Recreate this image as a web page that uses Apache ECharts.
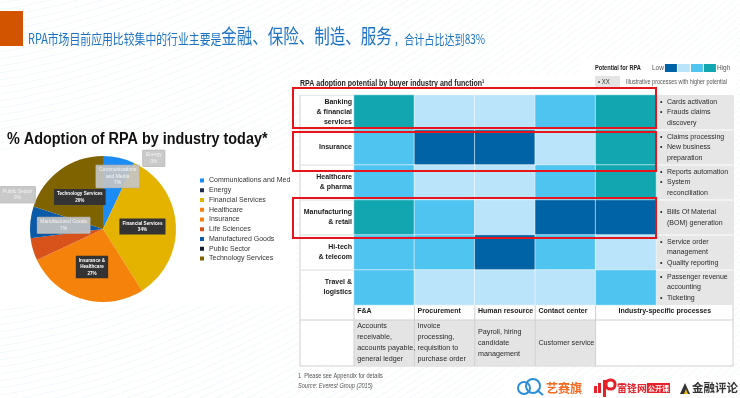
<!DOCTYPE html>
<html>
<head>
<meta charset="utf-8">
<script src="https://cdn.jsdelivr.net/npm/echarts@6/dist/echarts.min.js"></script>
<style>
html, body { margin: 0; padding: 0; background: #fff; }
#main { width: 740px; height: 398px; }
</style>
</head>
<body>
<div id="main"></div>
<script>
// pie: % adoption of RPA by industry
var industries = ['Communications and Media', 'Energy', 'Financial Services', 'Healthcare', 'Insurance',
                  'Life Sciences', 'Manufactured Goods', 'Public Sector', 'Technology Services'];
var shares = [7, 0, 34, 0, 27, 5, 7, 0, 20];
var sliceLabels = ['Communications\nand Media', 'Energy', 'Financial Services', '', 'Insurance &\nHealthcare',
                   'Life Sciences', 'Manufactured Goods', 'Public Sector', 'Technology Services'];

// heatmap: RPA adoption potential (1 = low ... 4 = high)
var buyerRows = ['Banking\n& financial\nservices', 'Insurance', 'Healthcare\n& pharma',
                 'Manufacturing\n& retail', 'Hi-tech\n& telecom', 'Travel &\nlogistics'];
var functionCols = ['F&A', 'Procurement', 'Human resource', 'Contact center', 'Industry-specific processes'];
var functionExamples = ['Accounts\nreceivable,\naccounts payable,\ngeneral ledger',
                        'Invoice\nprocessing,\nrequisition to\npurchase order',
                        'Payroll, hiring\ncandidate\nmanagement',
                        'Customer service', ''];
var rowProcesses = [
    ['Cards activation', 'Frauds claims\ndiscovery'],
    ['Claims processing', 'New business\npreparation'],
    ['Reports automation', 'System\nreconciliation'],
    ['Bills Of Material\n(BOM) generation'],
    ['Service order\nmanagement', 'Quality reporting'],
    ['Passenger revenue\naccounting', 'Ticketing']
];
var potential = [
    [4, 2, 2, 3, 4],
    [3, 1, 1, 2, 4],
    [3, 2, 2, 3, 4],
    [4, 3, 2, 1, 1],
    [3, 3, 1, 3, 2],
    [3, 2, 2, 2, 3]
];
var potentialLevels = [1, 2, 3, 4];

var pieColors = ['#1b8cf5', '#1f2d4d', '#e4b300', '#f57f12', '#f5820a', '#d8521c', '#0a5aa8', '#151b2e', '#7f6300'];
var levelColors = ['#0063a5', '#b9e4f9', '#50c4f0', '#12a6b1'];
var darkLabels = ['Financial Services', 'Insurance', 'Technology Services'];
var labelOffsets = {'Communications and Media': [6, -14], 'Energy': [34, -35], 'Public Sector': [-48, -22]};

var SANS = "'Liberation Sans',Arial,sans-serif";

var myChart = echarts.init(document.getElementById('main'));

var G = {left: 354, top: 95, width: 302, height: 210};
var rowH = G.height / buyerRows.length;
var colW = G.width / functionCols.length;
var tableLeft = 300, tableRight = 733, tableBottom = 366;
var headerBottom = G.top + G.height + 15;

var pieData = industries.map(function (name, i) {
    var dark = darkLabels.indexOf(name) >= 0;
    var label = dark
        ? {backgroundColor: '#333', color: '#fff', fontWeight: 'bold', fontSize: 4.6, padding: [1.5, 3]}
        : {backgroundColor: 'rgba(196,196,196,0.92)', color: '#f4f4f4', borderColor: '#aaa', borderWidth: 0.5,
           fontSize: 5, padding: [1.5, 3]};
    if (labelOffsets[name]) label.offset = labelOffsets[name];
    if (!sliceLabels[i]) label.show = false;
    return {name: name, value: shares[i], itemStyle: {color: pieColors[i]}, label: label};
});

var heatData = [];
potential.forEach(function (row, r) {
    row.forEach(function (v, c) { heatData.push([c, r, v]); });
});

// faint diagonal background lines
var stripes = document.createElement('canvas');
stripes.width = 740; stripes.height = 398;
var sctx = stripes.getContext('2d');
sctx.fillStyle = '#fff';
sctx.fillRect(0, 0, 740, 398);
sctx.strokeStyle = 'rgba(195,222,242,0.22)';
sctx.lineWidth = 1;
for (var k = -60; k < 120; k++) {
    sctx.beginPath();
    sctx.moveTo(-20, 300 + k * 7);
    sctx.quadraticCurveTo(300, 260 + k * 7, 760, 60 + k * 7 - 200);
    sctx.stroke();
}

var graphics = [];
// table chrome
graphics.push({type: 'rect', z: -2, shape: {x: tableLeft, y: G.top, width: tableRight - tableLeft, height: tableBottom - G.top},
    style: {fill: '#fff', stroke: '#d0d0d0', lineWidth: 1}});
graphics.push({type: 'rect', z: -2, shape: {x: 296, y: 74, width: 440, height: 21}, style: {fill: '#fff'}});
graphics.push({type: 'rect', z: -2, shape: {x: 580, y: 58, width: 156, height: 16}, style: {fill: '#fff'}});
graphics.push({type: 'rect', z: -2, shape: {x: 0, y: 150, width: 296, height: 155}, style: {fill: '#fff'}});
graphics.push({type: 'rect', z: -1, shape: {x: G.left + G.width, y: G.top, width: tableRight - G.left - G.width, height: G.height},
    style: {fill: '#e6e6e6'}});
graphics.push({type: 'rect', z: -1, shape: {x: G.left, y: headerBottom, width: colW * 4, height: tableBottom - headerBottom},
    style: {fill: '#e4e4e4'}});
for (var r = 1; r < buyerRows.length; r++) {
    var yy = G.top + rowH * r;
    graphics.push({type: 'line', z: -1, shape: {x1: tableLeft, y1: yy, x2: G.left, y2: yy}, style: {stroke: '#dcdcdc', lineWidth: 1}});
    graphics.push({type: 'line', z: -1, shape: {x1: G.left + G.width, y1: yy, x2: tableRight, y2: yy}, style: {stroke: '#fff', lineWidth: 1}});
}
graphics.push({type: 'line', z: -1, shape: {x1: tableLeft, y1: headerBottom, x2: tableRight, y2: headerBottom}, style: {stroke: '#d0d0d0', lineWidth: 1}});
for (var c = 0; c <= 4; c++) {
    var xx = G.left + colW * c;
    graphics.push({type: 'line', z: -1, shape: {x1: xx, y1: G.top + G.height, x2: xx, y2: tableBottom}, style: {stroke: '#d0d0d0', lineWidth: 1}});
}
// red highlight boxes
[[88, 40], [132, 39], [198, 40]].forEach(function (b) {
    graphics.push({type: 'rect', z: 100, shape: {x: 293, y: b[0], width: 363, height: b[1]},
        style: {fill: 'none', stroke: '#e8141b', lineWidth: 2}});
});
// slide header
graphics.push({type: 'rect', shape: {x: 0, y: 11, width: 23, height: 35}, style: {fill: '#d35400'}});
graphics.push({type: 'text', x: 28, y: 46, scaleX: 0.775, style: {
    text: '{s|RPA市场目前应用比较集中的行业主要是}{b|金融、保险、制造、服务}{t| ，合计占比达到83%}',
    verticalAlign: 'bottom',
    rich: {
        s: {fontSize: 14, lineHeight: 14, fill: '#1b72c6', fontFamily: 'Noto Sans CJK SC', verticalAlign: 'bottom'},
        b: {fontSize: 20, lineHeight: 20, fill: '#1b72c6', fontFamily: 'Noto Sans CJK SC', verticalAlign: 'bottom'},
        t: {fontSize: 13, lineHeight: 13, fill: '#1b72c6', fontFamily: 'Noto Sans CJK SC', verticalAlign: 'bottom'}
    }
}});
graphics.push({type: 'text', x: 7, y: 140, scaleX: 0.9, style: {
    text: '% Adoption of RPA by industry today*', fontSize: 16, fontWeight: 'bold', fontFamily: SANS,
    fill: '#111', verticalAlign: 'middle'}});
// heatmap titles
graphics.push({type: 'text', x: 300, y: 84, scaleX: 0.78, style: {
    text: 'RPA adoption potential by buyer industry and function¹', fontSize: 9, fontWeight: 'bold', fontFamily: SANS,
    fill: '#222', verticalAlign: 'middle'}});
graphics.push({type: 'text', x: 595, y: 68, scaleX: 0.75, style: {
    text: 'Potential for RPA', fontSize: 7.5, fontWeight: 'bold', fontFamily: SANS, fill: '#222', verticalAlign: 'middle'}});
graphics.push({type: 'rect', shape: {x: 595, y: 76, width: 25, height: 12}, style: {fill: '#e4e4e4'}});
graphics.push({type: 'text', x: 598, y: 82, scaleX: 0.8, style: {
    text: '• XX', fontSize: 7.5, fontFamily: SANS, fill: '#333', verticalAlign: 'middle'}});
graphics.push({type: 'text', x: 626, y: 82, scaleX: 0.78, style: {
    text: 'Illustrative processes with higher potential', fontSize: 7, fontFamily: SANS, fill: '#555', verticalAlign: 'middle'}});
// footnotes
graphics.push({type: 'text', x: 298, y: 376, scaleX: 0.8, style: {
    text: '1  Please see Appendix for details', fontSize: 7, fontFamily: SANS, fill: '#555', verticalAlign: 'middle'}});
graphics.push({type: 'text', x: 298, y: 386, scaleX: 0.8, style: {
    text: 'Source: Everest Group (2015)', fontSize: 7, fontStyle: 'italic', fontFamily: SANS, fill: '#555', verticalAlign: 'middle'}});
// logos
graphics.push({type: 'rect', z: -1, shape: {x: 505, y: 377, width: 235, height: 21}, style: {fill: '#fff'}});
graphics.push({type: 'circle', shape: {cx: 524, cy: 388, r: 6}, style: {fill: 'none', stroke: '#2b8fd8', lineWidth: 2}});
graphics.push({type: 'circle', shape: {cx: 533, cy: 386, r: 7}, style: {fill: 'none', stroke: '#2b8fd8', lineWidth: 2}});
graphics.push({type: 'line', shape: {x1: 537, y1: 390, x2: 543, y2: 395}, style: {stroke: '#2b8fd8', lineWidth: 2}});
graphics.push({type: 'text', x: 546, y: 388, style: {
    text: '艺赛旗', fontSize: 12, fontWeight: 'bold', fontFamily: 'Noto Sans CJK SC', fill: '#f26a21', verticalAlign: 'middle'}});
graphics.push({type: 'rect', shape: {x: 594, y: 386, width: 3, height: 7}, style: {fill: '#e62129'}});
graphics.push({type: 'rect', shape: {x: 598, y: 383, width: 3, height: 10}, style: {fill: '#e62129'}});
graphics.push({type: 'rect', shape: {x: 603, y: 380, width: 3, height: 17}, style: {fill: '#e62129'}});
graphics.push({type: 'rect', shape: {x: 606, y: 380, width: 9, height: 9, r: 4}, style: {fill: 'none', stroke: '#e62129', lineWidth: 3}});
graphics.push({type: 'text', x: 617, y: 388, style: {
    text: '雷锋网', fontSize: 10, fontWeight: 'bold', fontFamily: 'Noto Sans CJK SC', fill: '#e62129', verticalAlign: 'middle'}});
graphics.push({type: 'rect', shape: {x: 647, y: 383, width: 23, height: 10}, style: {fill: '#e62129'}});
graphics.push({type: 'text', x: 658.5, y: 388, style: {
    text: '公开课', fontSize: 7, fontWeight: 'bold', fontFamily: 'Noto Sans CJK SC', fill: '#fff', align: 'center', verticalAlign: 'middle'}});
graphics.push({type: 'polygon', shape: {points: [[680, 394], [685, 383], [690, 394]]}, style: {fill: '#333'}});
graphics.push({type: 'polygon', shape: {points: [[684, 394], [686, 389], [688, 394]]}, style: {fill: '#f2b90f'}});
graphics.push({type: 'text', x: 692, y: 388, style: {
    text: '金融评论', fontSize: 11.5, fontWeight: 'bold', fontFamily: 'Noto Sans CJK SC', fill: '#333', verticalAlign: 'middle'}});

var option = {
    backgroundColor: {image: stripes, repeat: 'no-repeat'},
    animation: false,
    legend: {
        data: industries,
        orient: 'vertical',
        left: 200,
        top: 176,
        padding: 0,
        icon: 'rect',
        itemWidth: 4,
        itemHeight: 4,
        itemGap: 0.75,
        selectedMode: false,
        textStyle: {fontSize: 7, color: '#333', fontFamily: SANS, lineHeight: 9,
                    width: 83, overflow: 'truncate', ellipsis: ''}
    },
    grid: {left: G.left, top: G.top, width: G.width, height: G.height},
    xAxis: [{
        type: 'category', data: functionCols, position: 'bottom',
        axisLine: {show: false}, axisTick: {show: false}, splitLine: {show: false},
        axisLabel: {
            interval: 0, margin: 3,
            formatter: function (v, i) { return i < 4 ? '{l|' + v + '}' : '{c|' + v + '}'; },
            rich: {
                l: {width: 54, align: 'left', fontWeight: 'bold', fontSize: 7, fontFamily: SANS, color: '#1a1a1a'},
                c: {align: 'left', padding: [0, 0, 0, 78], fontWeight: 'bold', fontSize: 7, fontFamily: SANS, color: '#1a1a1a'}
            }
        }
    }, {
        type: 'category', data: functionCols, position: 'bottom', offset: 15,
        axisLine: {show: false}, axisTick: {show: false}, splitLine: {show: false},
        axisLabel: {
            interval: 0, margin: 23, verticalAlign: 'middle',
            formatter: function (v, i) { return functionExamples[i] ? '{l|' + functionExamples[i].split('\n').join('}\n{l|') + '}' : ''; },
            rich: {
                l: {width: 54, align: 'left', fontSize: 7.2, lineHeight: 11, fontFamily: SANS, color: '#2a2a2a'}
            }
        }
    }],
    yAxis: [{
        type: 'category', data: buyerRows, inverse: true,
        axisLine: {show: false}, axisTick: {show: false}, splitLine: {show: false},
        axisLabel: {margin: 2, fontSize: 7, lineHeight: 10, fontWeight: 'bold', fontFamily: SANS, color: '#1a1a1a'}
    }, {
        type: 'category', data: buyerRows, inverse: true, position: 'right',
        axisLine: {show: false}, axisTick: {show: false}, splitLine: {show: false},
        axisLabel: {
            margin: 4, align: 'left',
            formatter: function (v, i) {
                var lines = [];
                rowProcesses[i].forEach(function (item) {
                    item.split('\n').forEach(function (ln, k) {
                        lines.push((k === 0 ? '{b|•}' : '{b| }') + '{t|' + ln + '}');
                    });
                });
                return lines.join('\n');
            },
            rich: {
                b: {width: 7, fontSize: 7, lineHeight: 10.7, fontFamily: SANS, color: '#222'},
                t: {fontSize: 7, lineHeight: 10.7, fontFamily: SANS, color: '#2a2a2a'}
            }
        }
    }],
    visualMap: {
        type: 'piecewise',
        seriesIndex: 1,
        orient: 'horizontal',
        left: 652,
        top: 64,
        padding: 0,
        itemWidth: 12,
        itemHeight: 8,
        itemGap: 1,
        itemSymbol: 'rect',
        textGap: 4,
        text: ['High', 'Low'],
        selectedMode: false,
        pieces: potentialLevels.map(function (v, i) { return {value: v, color: levelColors[i]}; }),
        textStyle: {fontSize: 6.5, color: '#555', fontFamily: SANS}
    },
    graphic: {elements: graphics},
    series: [{
        type: 'pie',
        center: [103, 229],
        radius: 73,
        startAngle: 90,
        clockwise: true,
        silent: true,
        minShowLabelAngle: 0,
        label: {
            show: true,
            position: 'inside',
            lineHeight: 6.5,
            fontFamily: SANS,
            formatter: function (p) { return sliceLabels[p.dataIndex] + '\n' + p.value + '%'; }
        },
        labelLine: {show: false},
        data: pieData
    }, {
        type: 'heatmap',
        xAxisIndex: 0,
        yAxisIndex: 0,
        silent: true,
        itemStyle: {borderColor: 'rgba(255,255,255,0.55)', borderWidth: 1},
        data: heatData
    }]
};

myChart.setOption(option);
</script>
</body>
</html>
